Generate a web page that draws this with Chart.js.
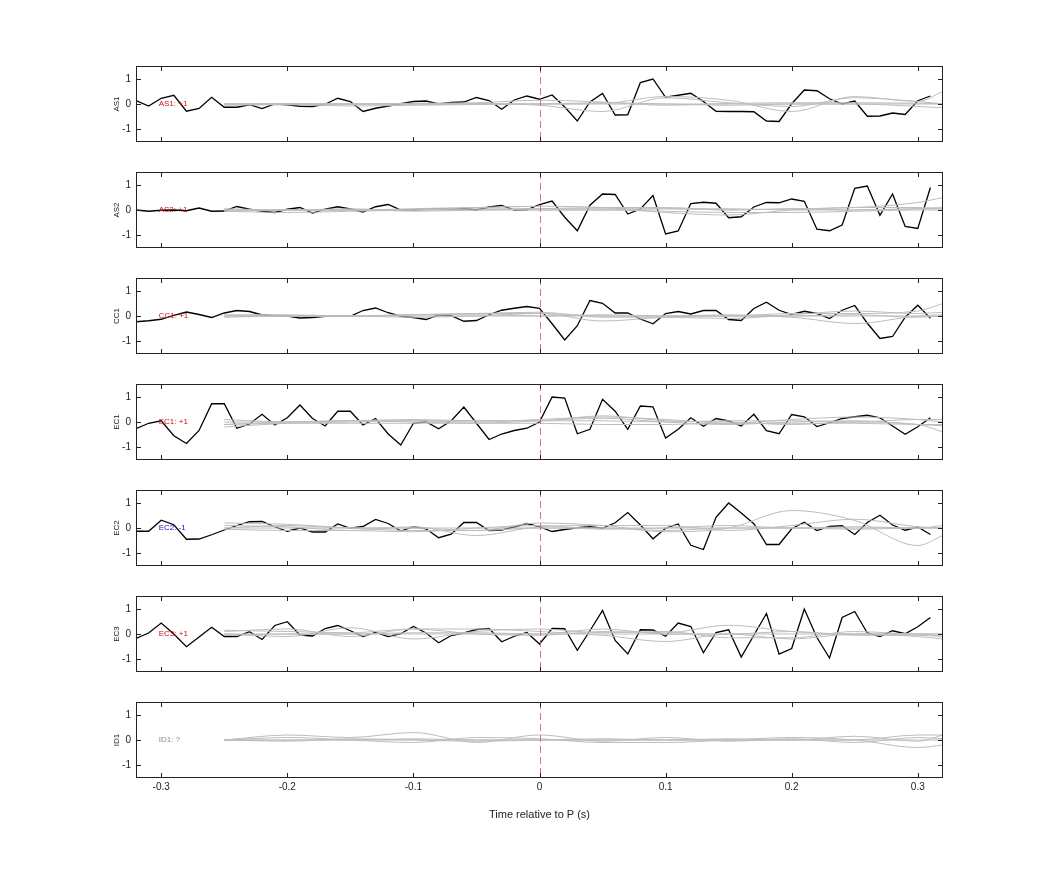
<!DOCTYPE html>
<html><head><meta charset="utf-8">
<script src="https://cdn.jsdelivr.net/npm/chart.js@4"></script>
<style>
body{margin:0;background:#fff;width:1042px;height:875px;position:relative;overflow:hidden;font-family:"Liberation Sans",Arial,sans-serif}
canvas{position:absolute}
</style></head><body>
<script>
const channels = ["AS1","AS2","CC1","EC1","EC2","EC3","ID1"];
const labels = ["AS1: +1","AS2: +1","CC1: +1","EC1: +1","EC2: -1","EC3: +1","ID1: ?"];
const labelColors = ["#d01010","#d01010","#d01010","#d01010","#1010d0","#d01010","#888888"];
const xTicks = [-0.3,-0.2,-0.1,0,0.1,0.2,0.3];
const yTicks = [-1,0,1];
const times = Array.from({length:64},(_,i)=>+(-0.32+0.01*i).toFixed(2));
const grayTimes = [-0.25,-0.2,-0.15,-0.1,-0.05,0,0.05,0.1,0.15,0.2,0.25,0.3,0.32];

const AS1 = [0.14,-0.08,0.23,0.35,-0.29,-0.18,0.27,-0.13,-0.13,-0.03,-0.18,0,-0.03,-0.09,-0.1,-0.01,0.23,0.1,-0.3,-0.17,-0.08,0.01,0.1,0.12,0,0.06,0.08,0.26,0.14,-0.21,0.16,0.32,0.19,0.36,-0.12,-0.68,0.08,0.42,-0.44,-0.43,0.86,1.0,0.27,0.35,0.43,0.1,-0.29,-0.3,-0.3,-0.31,-0.68,-0.7,0.01,0.56,0.53,0.21,0,0.12,-0.49,-0.48,-0.36,-0.42,0.13,0.32];
const AS2 = [0,-0.05,-0.01,0,-0.03,0.08,-0.05,-0.04,0.14,0.03,-0.05,-0.1,0.03,0.1,-0.12,0.03,0.13,0.04,-0.08,0.13,0.22,0,0.01,0.03,0.03,0.04,0.06,0,0.12,0.18,0,0.01,0.22,0.36,-0.29,-0.83,0.19,0.64,0.62,-0.16,0.04,0.58,-0.96,-0.84,0.26,0.31,0.27,-0.31,-0.27,0.12,0.3,0.29,0.44,0.35,-0.77,-0.83,-0.6,0.87,0.96,-0.21,0.64,-0.66,-0.74,0.9];
const CC1 = [-0.23,-0.19,-0.13,0.03,0.16,0.06,-0.06,0.12,0.22,0.18,0.04,0.01,0,-0.08,-0.06,-0.01,0,-0.01,0.22,0.32,0.13,-0.01,-0.06,-0.14,0.04,0.01,-0.21,-0.18,0.05,0.23,0.31,0.38,0.31,-0.31,-0.96,-0.39,0.62,0.51,0.12,0.12,-0.12,-0.31,0.1,0.18,0.08,0.22,0.22,-0.14,-0.18,0.3,0.55,0.23,0.06,0.19,0.1,-0.1,0.23,0.42,-0.29,-0.9,-0.82,-0.05,0.43,-0.09];
const EC1 = [-0.27,-0.05,0.05,-0.55,-0.86,-0.34,0.73,0.73,-0.25,-0.08,0.31,-0.12,0.17,0.68,0.14,-0.16,0.43,0.43,-0.12,0.14,-0.48,-0.92,-0.05,0.01,-0.27,0.05,0.6,-0.05,-0.7,-0.48,-0.34,-0.25,0,1.0,0.96,-0.47,-0.29,0.91,0.43,-0.29,0.64,0.61,-0.64,-0.29,0.17,-0.17,0.14,0.04,-0.16,0.31,-0.35,-0.47,0.3,0.21,-0.18,-0.03,0.14,0.21,0.27,0.17,-0.16,-0.49,-0.19,0.17];
const EC2 = [-0.13,-0.13,0.31,0.13,-0.45,-0.44,-0.27,-0.08,0.1,0.25,0.26,0.05,-0.13,0,-0.16,-0.16,0.16,-0.01,0.06,0.34,0.18,-0.12,0.05,-0.03,-0.39,-0.25,0.22,0.22,-0.1,-0.08,0.04,0.18,0.05,-0.14,-0.06,0.01,0.05,-0.01,0.21,0.62,0.12,-0.43,-0.01,0.16,-0.69,-0.86,0.43,1.0,0.6,0.17,-0.66,-0.66,-0.03,0.23,-0.1,0.06,0.09,-0.26,0.22,0.51,0.12,-0.09,0.04,-0.26];
const EC3 = [-0.18,0.04,0.44,0,-0.51,-0.12,0.27,-0.1,-0.1,0.09,-0.22,0.34,0.49,-0.04,-0.08,0.22,0.34,0.13,-0.1,0.06,-0.1,0.01,0.3,0.04,-0.35,-0.06,0.04,0.18,0.22,-0.31,-0.09,0.06,-0.4,0.22,0.21,-0.65,0.13,0.94,-0.26,-0.8,0.17,0.16,-0.09,0.44,0.3,-0.75,0.06,0.17,-0.92,-0.05,0.82,-0.8,-0.58,1.0,-0.14,-0.96,0.66,0.9,0.04,-0.1,0.13,0.01,0.29,0.66];
const blackSeries = [AS1,AS2,CC1,EC1,EC2,EC3,null];

const graySeries = [
 [[0,0.02,0,0.03,0.05,0.15,0.08,-0.05,0.02,0.05,0.05,0.03,0.02],[0,-0.02,0,0,0.02,-0.05,-0.3,0.25,0.05,-0.1,0.25,0.1,0.0],[0,0,0,0,0,0,0.02,0.3,0.15,-0.3,0.3,0.1,0.5],[-0.05,-0.03,-0.08,-0.05,-0.02,0,0.05,0,-0.05,0,0,-0.1,-0.15],[0,0,0,0,0,0,0,0,0,0,0,0,0]],
 [[0,0,0,0.05,0.1,0.05,0.05,0.05,0,0.05,0.1,0.3,0.5],[-0.05,-0.1,-0.05,0,0.1,0.15,0.1,-0.1,-0.2,0,0.1,0.1,0.05],[0.05,0,0.05,-0.05,0,0.05,0.1,0.1,0,0.05,0,0.05,0.1],[0,0,0,0,0,0,0,0.05,0.05,0,0,0.05,0.05],[-0.05,0,0,0,0.05,0,0,-0.05,-0.1,-0.1,-0.05,0,0]],
 [[0,0,0,0.05,0.1,0.1,0,0,0,0.1,0.1,0.2,0.5],[0,0,0,0.05,0.1,0.15,-0.05,-0.05,-0.1,0.05,0.2,0.1,0.15],[-0.05,0,0,-0.05,0,0.1,-0.2,-0.05,0,-0.05,-0.3,0,0.05],[0.05,0.05,0,0.05,0.05,0,0.05,0,0.05,0,0.05,-0.05,0],[0,0,0,0,0,0,0,0,0,0,0,0,0]],
 [[-0.2,-0.05,0,0.05,0,0.1,0.2,0.1,-0.05,0.1,0.2,0.1,0],[-0.1,0,0.05,0.1,0.05,0.05,0.25,0.05,0,-0.1,0,-0.1,-0.4],[0,0,0.05,0,-0.05,0.05,0.15,0,-0.1,0,0.05,-0.1,-0.15],[0.1,0,0.05,0.05,0.05,0.05,0.05,0,0.05,0.05,0,0.1,0.1],[-0.1,-0.05,-0.05,-0.05,-0.05,-0.05,-0.1,-0.1,-0.05,-0.05,-0.05,-0.1,-0.1]],
 [[0.2,0.15,0,-0.1,-0.1,0.2,0.1,-0.15,0,0.7,0.3,-0.7,-0.3],[0.1,0.05,-0.1,0.05,-0.3,0.05,0.1,0.1,-0.1,0.1,0.35,0.05,0],[-0.05,-0.1,-0.1,-0.15,0,0.1,-0.05,0,0.1,0,0.05,0,0.1],[0,0.1,0,0,-0.1,0,0,-0.1,0,0,-0.05,0,0],[0,0,0,0,0,0,0,0,0,0,0,0,0]],
 [[0.15,0.1,0.05,0.2,0,-0.05,0.1,0.05,0.35,0.1,0,0,-0.1],[0.1,0.2,-0.1,0.2,0.2,0.1,-0.05,-0.3,0,-0.2,0,-0.1,-0.2],[0,-0.1,0.25,-0.2,0.1,0.2,0.05,0.1,-0.15,-0.15,0.1,0,0],[-0.05,0,0,0.05,0.05,0,0.2,0,0,0.1,-0.05,-0.05,-0.1],[0,0,0,0,0,0,0,0,0,0,0,0,0]],
 [[0,0.2,0.1,0.3,-0.1,0.2,-0.05,0.1,-0.05,0.05,-0.1,0.1,0.05],[0,0.1,0,-0.1,0.1,0.05,-0.1,-0.1,0,0.1,0,-0.3,-0.2],[0,-0.05,0.05,0,-0.05,0,0.05,0,0.05,0,0.15,-0.05,0.2],[0,0,0,0.05,0,0,0,0,0,0,0,0.2,0.2],[0,0,0,0,0,0,0,0,0,0,0,0,0]]
];

const panelTops = [66,172,278,384,490,596,702];
const panelH = 76, canvasLeft = 100, plotLeft = 136, plotRight = 943, xAxisH = 46;

const framePlugin = {
  id:'frame',
  afterDatasetsDraw(chart){
    const {ctx, chartArea:a, scales:{x,y}} = chart;
    ctx.save();
    ctx.strokeStyle='rgba(215,90,90,0.85)'; ctx.lineWidth=1; ctx.setLineDash([7,4]);
    const x0=Math.round(x.getPixelForValue(0))+0.5;
    ctx.beginPath(); ctx.moveTo(x0,a.top); ctx.lineTo(x0,a.bottom); ctx.stroke();
    ctx.setLineDash([]);
    ctx.strokeStyle='#222'; ctx.lineWidth=1;
    ctx.strokeRect(a.left+0.5,a.top+0.5,a.right-a.left-1,a.bottom-a.top-1);
    ctx.beginPath();
    xTicks.forEach(v=>{const px=Math.round(x.getPixelForValue(v))+0.5;
      ctx.moveTo(px,a.top); ctx.lineTo(px,a.top+5); ctx.moveTo(px,a.bottom); ctx.lineTo(px,a.bottom-5);});
    yTicks.forEach(v=>{const py=Math.round(y.getPixelForValue(v))+0.5;
      ctx.moveTo(a.left,py); ctx.lineTo(a.left+5,py); ctx.moveTo(a.right,py); ctx.lineTo(a.right-5,py);});
    ctx.stroke();
    ctx.restore();
  }
};
const labelPlugin = {
  id:'plabel',
  afterDatasetsDraw(chart, args, opts){
    const {ctx, chartArea:a, scales:{x,y}} = chart;
    ctx.save();
    ctx.font='8px "Liberation Sans", Arial, sans-serif';
    ctx.fillStyle=opts.color; ctx.textBaseline='middle'; ctx.textAlign='left';
    ctx.fillText(opts.text, x.getPixelForValue(-0.302), y.getPixelForValue(0));
    // channel name (y axis title)
    ctx.fillStyle='#222'; ctx.textAlign='center';
    ctx.translate(a.left-19, y.getPixelForValue(0));
    ctx.rotate(-Math.PI/2);
    ctx.fillText(opts.channel,0,0);
    ctx.restore();
  }
};

channels.forEach((ch,p)=>{
  const last = p===channels.length-1;
  const cv = document.createElement('canvas');
  const h = last ? panelH+xAxisH : panelH;
  const w = 1042-canvasLeft;
  cv.style.left=canvasLeft+'px'; cv.style.top=panelTops[p]+'px';
  cv.style.width=w+'px'; cv.style.height=h+'px';
  cv.width=w; cv.height=h;
  document.body.appendChild(cv);
  const datasets=[];
  graySeries[p].forEach(g=>datasets.push({data:grayTimes.map((t,i)=>({x:t,y:g[i]})),borderColor:'#bdbdbd',borderWidth:1,pointRadius:0,tension:0.4,cubicInterpolationMode:'monotone'}));
  if(blackSeries[p]) datasets.push({data:times.map((t,i)=>({x:t,y:blackSeries[p][i]})),borderColor:'#000',borderWidth:1.3,pointRadius:0,tension:0});
  new Chart(cv,{
    type:'line',
    data:{datasets},
    options:{
      responsive:false, animation:false, events:[],
      layout:{padding:{top:0,bottom:0,right:1042-plotRight,left:0}},
      plugins:{legend:{display:false},tooltip:{enabled:false},plabel:{text:labels[p],color:labelColors[p],channel:ch}},
      scales:{
        x:{type:'linear',min:-0.32,max:0.32,display:last,
           grid:{display:false,drawTicks:false,tickLength:0},border:{display:false},
           afterBuildTicks:s=>{s.ticks=xTicks.map(v=>({value:v}));},
           afterFit:s=>{s.paddingLeft=0;s.paddingRight=0;if(last) s.height=xAxisH;},
           ticks:{color:'#222',font:{size:10,family:'"Liberation Sans", Arial'},padding:3,callback:v=>String(v)},
           title:{display:true,text:'Time relative to P (s)',color:'#222',font:{size:11,family:'"Liberation Sans", Arial'},padding:{top:4,bottom:2}}},
        y:{min:-1.52,max:1.52,grid:{display:false,drawTicks:false,tickLength:0},border:{display:false},
           afterBuildTicks:s=>{s.ticks=yTicks.map(v=>({value:v}));},
           afterFit:s=>{s.width=plotLeft-canvasLeft;s.paddingTop=0;s.paddingBottom=0;},
           ticks:{color:'#222',font:{size:10,family:'"Liberation Sans", Arial'},padding:5,callback:v=>String(v)}}
      }
    },
    plugins:[framePlugin,labelPlugin]
  });
});
</script>
</body></html>
